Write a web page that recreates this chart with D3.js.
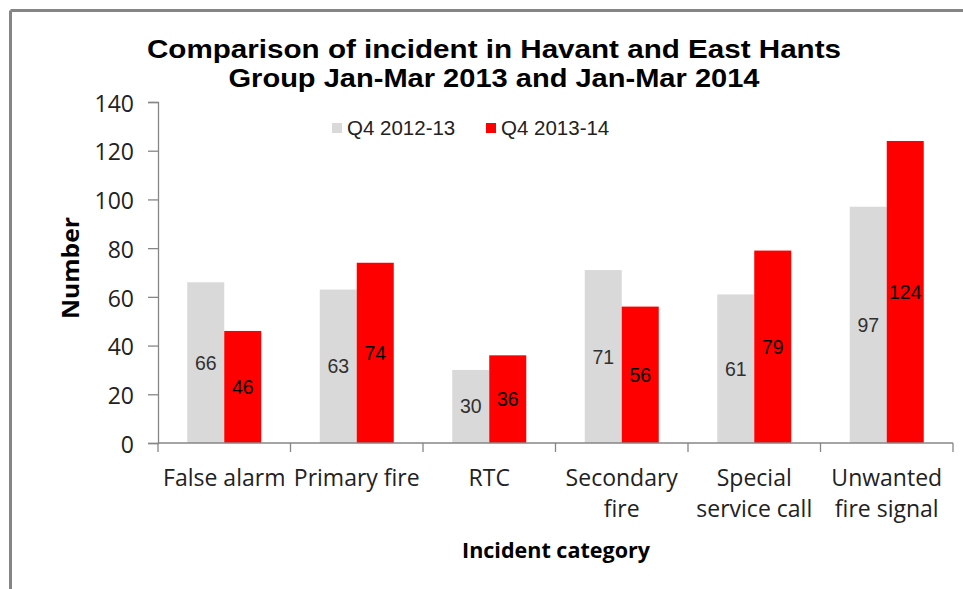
<!DOCTYPE html>
<html>
<head>
<meta charset="utf-8">
<script src="https://cdn.jsdelivr.net/npm/d3@7"></script>
<style>
  body { margin: 0; background: #fff; }
  svg { display: block; }
</style>
</head>
<body>
<svg id="chart" width="963" height="589"></svg>
<script>
'use strict';
(function() {

    // chart data
    var categories = [['False alarm'], ['Primary fire'], ['RTC'], ['Secondary', 'fire'],
        ['Special', 'service call'], ['Unwanted', 'fire signal']];
    var seriesNames = ['Q4 2012-13', 'Q4 2013-14'];
    var q4_2012 = [66, 63, 30, 71, 61, 97];
    var q4_2013 = [46, 74, 36, 56, 79, 124];
    var yTicks = [0, 20, 40, 60, 80, 100, 120, 140];
    var colors = ['#d9d9d9', '#ff0000'];

    var catKeys = categories.map(function(c) { return c.join(' '); });
    var data = catKeys.map(function(k, i) {
        return { key: k, lines: categories[i], values: [q4_2012[i], q4_2013[i]] };
    });

    var svg = d3.select('#chart');
    var axisColor = '#868686';

    // frame (top + left edges only)
    svg.append('line').attr('x1', 10.5).attr('x2', 963).attr('y1', 10.5).attr('y2', 10.5)
        .attr('stroke', '#858585').attr('stroke-width', 3);
    svg.append('line').attr('x1', 10.5).attr('x2', 10.5).attr('y1', 10.5).attr('y2', 589)
        .attr('stroke', '#858585').attr('stroke-width', 3);

    var scaleY = d3.scaleLinear().domain([0, 140]).range([443, 102]);
    var scaleX = d3.scaleBand().domain(catKeys).range([158, 953]);
    var groupW = 74;
    var groupOff = (scaleX.bandwidth() - groupW) / 2;
    var scaleX1 = d3.scaleBand().domain([0, 1]).range([0, groupW]);

    // bars
    var groups = svg.append('g').selectAll('g')
        .data(data)
        .enter().append('g')
        .attr('transform', function(d) { return 'translate(' + (scaleX(d.key) + groupOff) + ',0)'; });

    groups.selectAll('rect')
        .data(function(d) { return d.values; })
        .enter().append('rect')
        .attr('x', function(v, j) { return scaleX1(j); })
        .attr('y', function(v) { return scaleY(v); })
        .attr('width', scaleX1.bandwidth())
        .attr('height', function(v) { return scaleY(0) - scaleY(v); })
        .attr('fill', function(v, j) { return colors[j]; });

    groups.selectAll('text')
        .data(function(d) { return d.values; })
        .enter().append('text')
        .attr('x', function(v, j) { return scaleX1(j) + scaleX1.bandwidth() / 2; })
        .attr('y', function(v) { return (scaleY(v) + scaleY(0)) / 2; })
        .attr('dy', '0.36em')
        .attr('text-anchor', 'middle')
        .attr('font-family', 'Liberation Sans, Arial, sans-serif')
        .attr('font-size', 19.5)
        .attr('fill', function(v, j) { return j === 0 ? '#303030' : '#000'; })
        .text(function(v) { return v; });

    // y axis
    var yAxis = svg.append('g')
        .attr('transform', 'translate(158,0)')
        .call(d3.axisLeft(scaleY).tickValues(yTicks).tickSize(10).tickPadding(14));
    yAxis.select('.domain').attr('stroke', axisColor).attr('stroke-width', 1.3);
    yAxis.selectAll('.tick line').attr('stroke', axisColor).attr('stroke-width', 1.3);
    yAxis.selectAll('.tick text')
        .attr('font-family', 'Open Sans, sans-serif')
        .attr('font-size', 23)
        .attr('fill', '#222')
        .attr('dy', '0.4em');

    // x axis
    var xAxis = svg.append('g')
        .attr('transform', 'translate(0,443)')
        .call(d3.axisBottom(scaleX).tickSize(0).tickFormat(''));
    xAxis.select('.domain').attr('stroke', axisColor).attr('stroke-width', 1.3)
        .attr('d', 'M158,0H953');
    xAxis.selectAll('.tick').remove();
    var edges = catKeys.map(function(k) { return scaleX(k); }).concat([953]);
    xAxis.selectAll('line.edge')
        .data(edges)
        .enter().append('line')
        .attr('class', 'edge')
        .attr('x1', function(d) { return d; })
        .attr('x2', function(d) { return d; })
        .attr('y1', 0).attr('y2', 9)
        .attr('stroke', axisColor).attr('stroke-width', 1.3);

    // category labels
    var catText = svg.append('g').selectAll('text')
        .data(data)
        .enter().append('text')
        .attr('x', function(d) { return scaleX(d.key) + scaleX.bandwidth() / 2; })
        .attr('y', 486)
        .attr('text-anchor', 'middle')
        .attr('font-family', 'Open Sans, sans-serif')
        .attr('font-size', 23)
        .attr('fill', '#222');
    catText.selectAll('tspan')
        .data(function(d) { return d.lines.map(function(l) { return { l: l, x: scaleX(d.key) + scaleX.bandwidth() / 2 }; }); })
        .enter().append('tspan')
        .attr('x', function(t) { return t.x; })
        .attr('dy', function(t, i) { return i === 0 ? 0 : 31; })
        .text(function(t) { return t.l; });

    // axis titles
    svg.append('text')
        .attr('x', 556).attr('y', 558)
        .attr('text-anchor', 'middle')
        .attr('font-family', 'Open Sans, sans-serif')
        .attr('font-weight', 'bold')
        .attr('font-size', 22)
        .attr('textLength', 188)
        .attr('lengthAdjust', 'spacingAndGlyphs')
        .text('Incident category');

    svg.append('text')
        .attr('transform', 'translate(79,268) rotate(-90)')
        .attr('text-anchor', 'middle')
        .attr('font-family', 'Open Sans, sans-serif')
        .attr('font-weight', 'bold')
        .attr('font-size', 23)
        .attr('textLength', 102)
        .attr('lengthAdjust', 'spacingAndGlyphs')
        .text('Number');

    // title
    var titleLines = ['Comparison of incident in Havant and East Hants', 'Group Jan-Mar 2013 and Jan-Mar 2014'];
    var titleWidths = [694, 531];
    svg.append('g').selectAll('text')
        .data(titleLines)
        .enter().append('text')
        .attr('x', 494)
        .attr('y', function(d, i) { return 58 + i * 29; })
        .attr('text-anchor', 'middle')
        .attr('font-family', 'Liberation Sans, Arial, sans-serif')
        .attr('font-weight', 'bold')
        .attr('font-size', 26.5)
        .attr('textLength', function(d, i) { return titleWidths[i]; })
        .attr('lengthAdjust', 'spacingAndGlyphs')
        .text(function(d) { return d; });

    // legend
    var legendX = [332, 486];
    var legend = svg.append('g').selectAll('g')
        .data(seriesNames)
        .enter().append('g')
        .attr('transform', function(d, i) { return 'translate(' + legendX[i] + ',123)'; });
    legend.append('rect')
        .attr('width', 10).attr('height', 10)
        .attr('fill', function(d, i) { return colors[i]; });
    legend.append('text')
        .attr('x', 15).attr('y', 5)
        .attr('dy', '0.36em')
        .attr('font-family', 'Liberation Sans, Arial, sans-serif')
        .attr('font-size', 20.5)
        .attr('fill', '#222')
        .text(function(d) { return d; });

})();
</script>
</body>
</html>
